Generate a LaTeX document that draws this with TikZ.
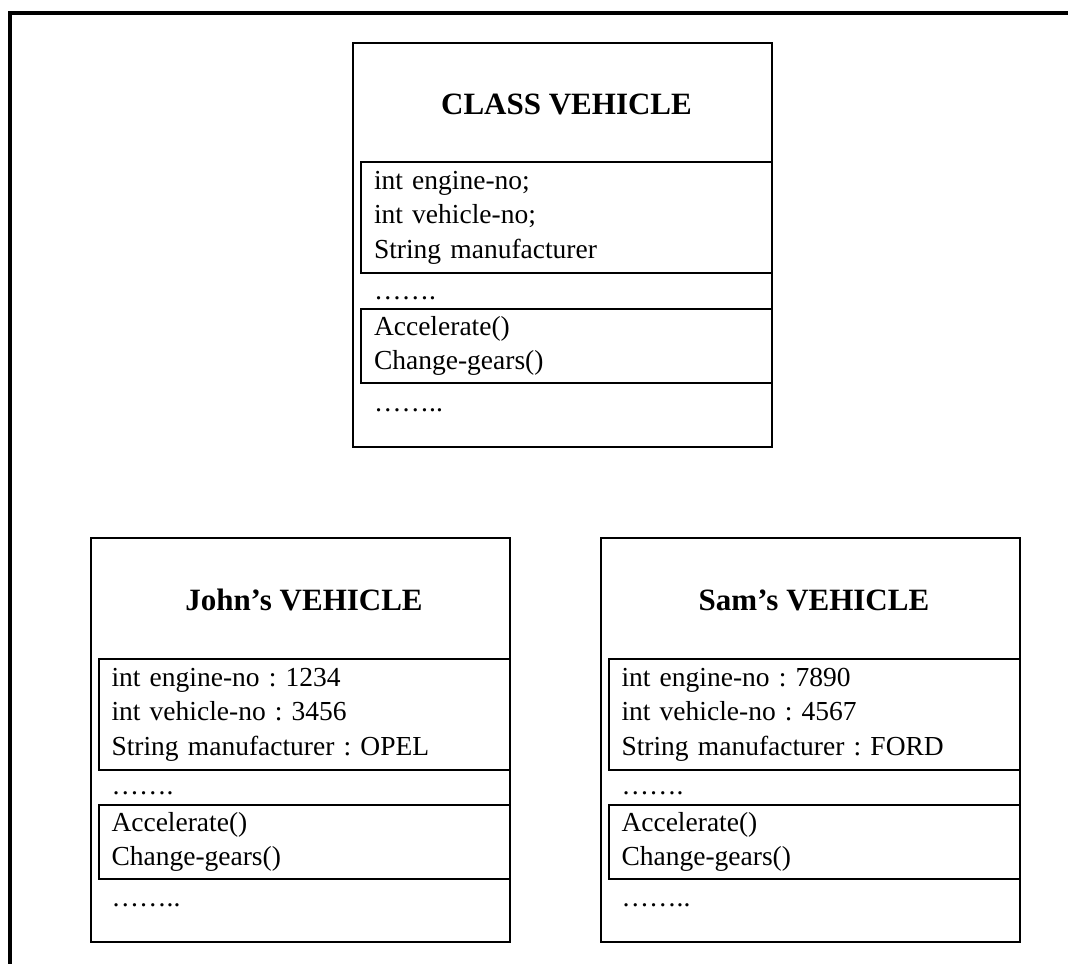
\documentclass[tikz,border=0pt]{standalone}
\usepackage{fontspec}
\setmainfont{Liberation Serif}
\usetikzlibrary{positioning,calc}
\frenchspacing

\begin{document}
\begin{tikzpicture}[x=1pt, y=-1pt,
      vbox/.style={rectangle, draw, line width=2pt,
                   minimum width=419pt, minimum height=404pt},
      title/.style={font=\fontsize{31}{36}\selectfont\bfseries, inner sep=0pt},
      fields/.style={rectangle, draw, line width=2pt, text width=385pt,
                     inner xsep=13pt, inner ysep=0pt, align=left,
                     font=\fontsize{27.5}{34.5}\selectfont},
      dots/.style={font=\fontsize{27.5}{34.5}\selectfont, inner sep=0pt},
      frame/.style={line width=4pt}]
      \useasboundingbox (0,0) rectangle (1068,964);
      \draw[frame] (1068,13) -- (10,13) -- (10,964);

      % class
      \node[vbox] (cls) at (562.5,245) {};
      \node[title, below=62pt of cls.north, anchor=center, xshift=4pt] (clsname) {CLASS VEHICLE};
      \node[fields, minimum height=111pt, below=119pt of cls.north east, anchor=north east] (clsattr)
           {int engine-no;\\int vehicle-no;\\String manufacturer};
      \node[dots, below right=257pt and 22pt of cls.north west, anchor=base west] (clsdots) {…….};
      \node[fields, minimum height=74pt, below=266pt of cls.north east, anchor=north east] (clsops)
           {Accelerate()\\Change-gears()};
      \node[dots, below right=369pt and 22pt of cls.north west, anchor=base west] (clsmore) {……..};

      % john's object
      \node[vbox] (john) at (300,740) {};
      \node[title, below=63pt of john.north, anchor=center, xshift=4pt] (johnname) {John’s VEHICLE};
      \node[fields, minimum height=111pt, below=121pt of john.north east, anchor=north east] (johnattr)
           {int engine-no : 1234\\int vehicle-no : 3456\\String manufacturer : OPEL};
      \node[dots, below right=257pt and 22pt of john.north west, anchor=base west] (johndots) {…….};
      \node[fields, minimum height=74pt, below=267pt of john.north east, anchor=north east] (johnops)
           {Accelerate()\\Change-gears()};
      \node[dots, below right=369pt and 22pt of john.north west, anchor=base west] (johnmore) {……..};

      % sam's object
      \node[vbox] (sam) at (810,740) {};
      \node[title, below=63pt of sam.north, anchor=center, xshift=4pt] (samname) {Sam’s VEHICLE};
      \node[fields, minimum height=111pt, below=121pt of sam.north east, anchor=north east] (samattr)
           {int engine-no : 7890\\int vehicle-no : 4567\\String manufacturer : FORD};
      \node[dots, below right=257pt and 22pt of sam.north west, anchor=base west] (samdots) {…….};
      \node[fields, minimum height=74pt, below=267pt of sam.north east, anchor=north east] (samops)
           {Accelerate()\\Change-gears()};
      \node[dots, below right=369pt and 22pt of sam.north west, anchor=base west] (sammore) {……..};
    \end{tikzpicture}
\end{document}
